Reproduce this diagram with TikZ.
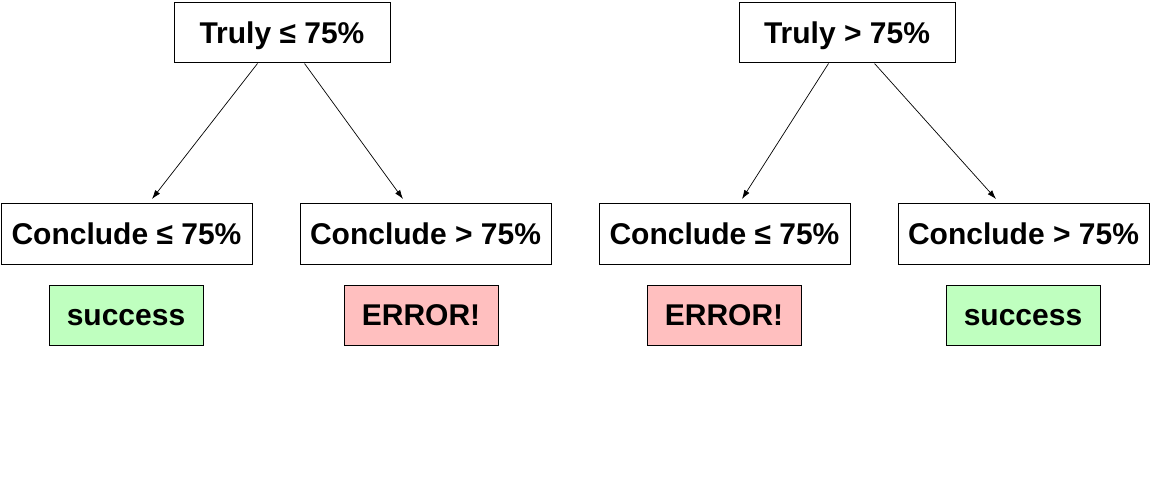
\documentclass[tikz,border=0pt]{standalone}
\usepackage{fontspec}
\setmainfont{Liberation Sans}
\usetikzlibrary{arrows.meta}
\definecolor{okgreen}{RGB}{191,255,191}
\definecolor{errpink}{RGB}{255,191,191}
\begin{document}
\begin{tikzpicture}[x=1pt,y=-1pt,
  box/.style={draw=black,line width=1pt,inner sep=0pt,text height=21pt,text depth=0pt,font=\fontsize{30}{36}\selectfont\bfseries},
  top/.style={box,fill=white,minimum width=216pt,minimum height=60pt},
  concl/.style={box,fill=white,minimum width=251pt,minimum height=61pt},
  good/.style={box,fill=okgreen,minimum width=154pt,minimum height=60pt},
  bad/.style={box,fill=errpink,minimum width=154pt,minimum height=60pt},
  arr/.style={draw=black,line width=0.7pt,-{Latex[length=9pt,width=6pt]}}]
\useasboundingbox (0,0) rectangle (1150,481);
\node[top] (t1) at (282,33) {Truly ≤ 75\%};
\node[top] (t2) at (847,33) {Truly > 75\%};
\node[concl] (c1) at (126.5,233.5) {Conclude ≤ 75\%};
\node[concl] (c2) at (425.5,233.5) {Conclude > 75\%};
\node[concl] (c3) at (724.5,233.5) {Conclude ≤ 75\%};
\node[concl] (c4) at (1023.5,233.5) {Conclude > 75\%};
\node[good] (s1) at (126,315) {success};
\node[bad] (e1) at (421,315) {ERROR!};
\node[bad] (e2) at (724,315) {ERROR!};
\node[good] (s2) at (1023,315) {success};
\coordinate (a1) at (152,199);
\coordinate (a2) at (403,199);
\coordinate (a3) at (742,199);
\coordinate (a4) at (996,199);
\draw[arr] (t1.south west) ++(84,0) coordinate (o1) -- (a1);
\draw[arr] (t1.south west) ++(131,0) coordinate (o2) -- (a2);
\draw[arr] (t2.south west) ++(90,0) coordinate (o3) -- (a3);
\draw[arr] (t2.south west) ++(136,0) coordinate (o4) -- (a4);
\end{tikzpicture}
\end{document}
